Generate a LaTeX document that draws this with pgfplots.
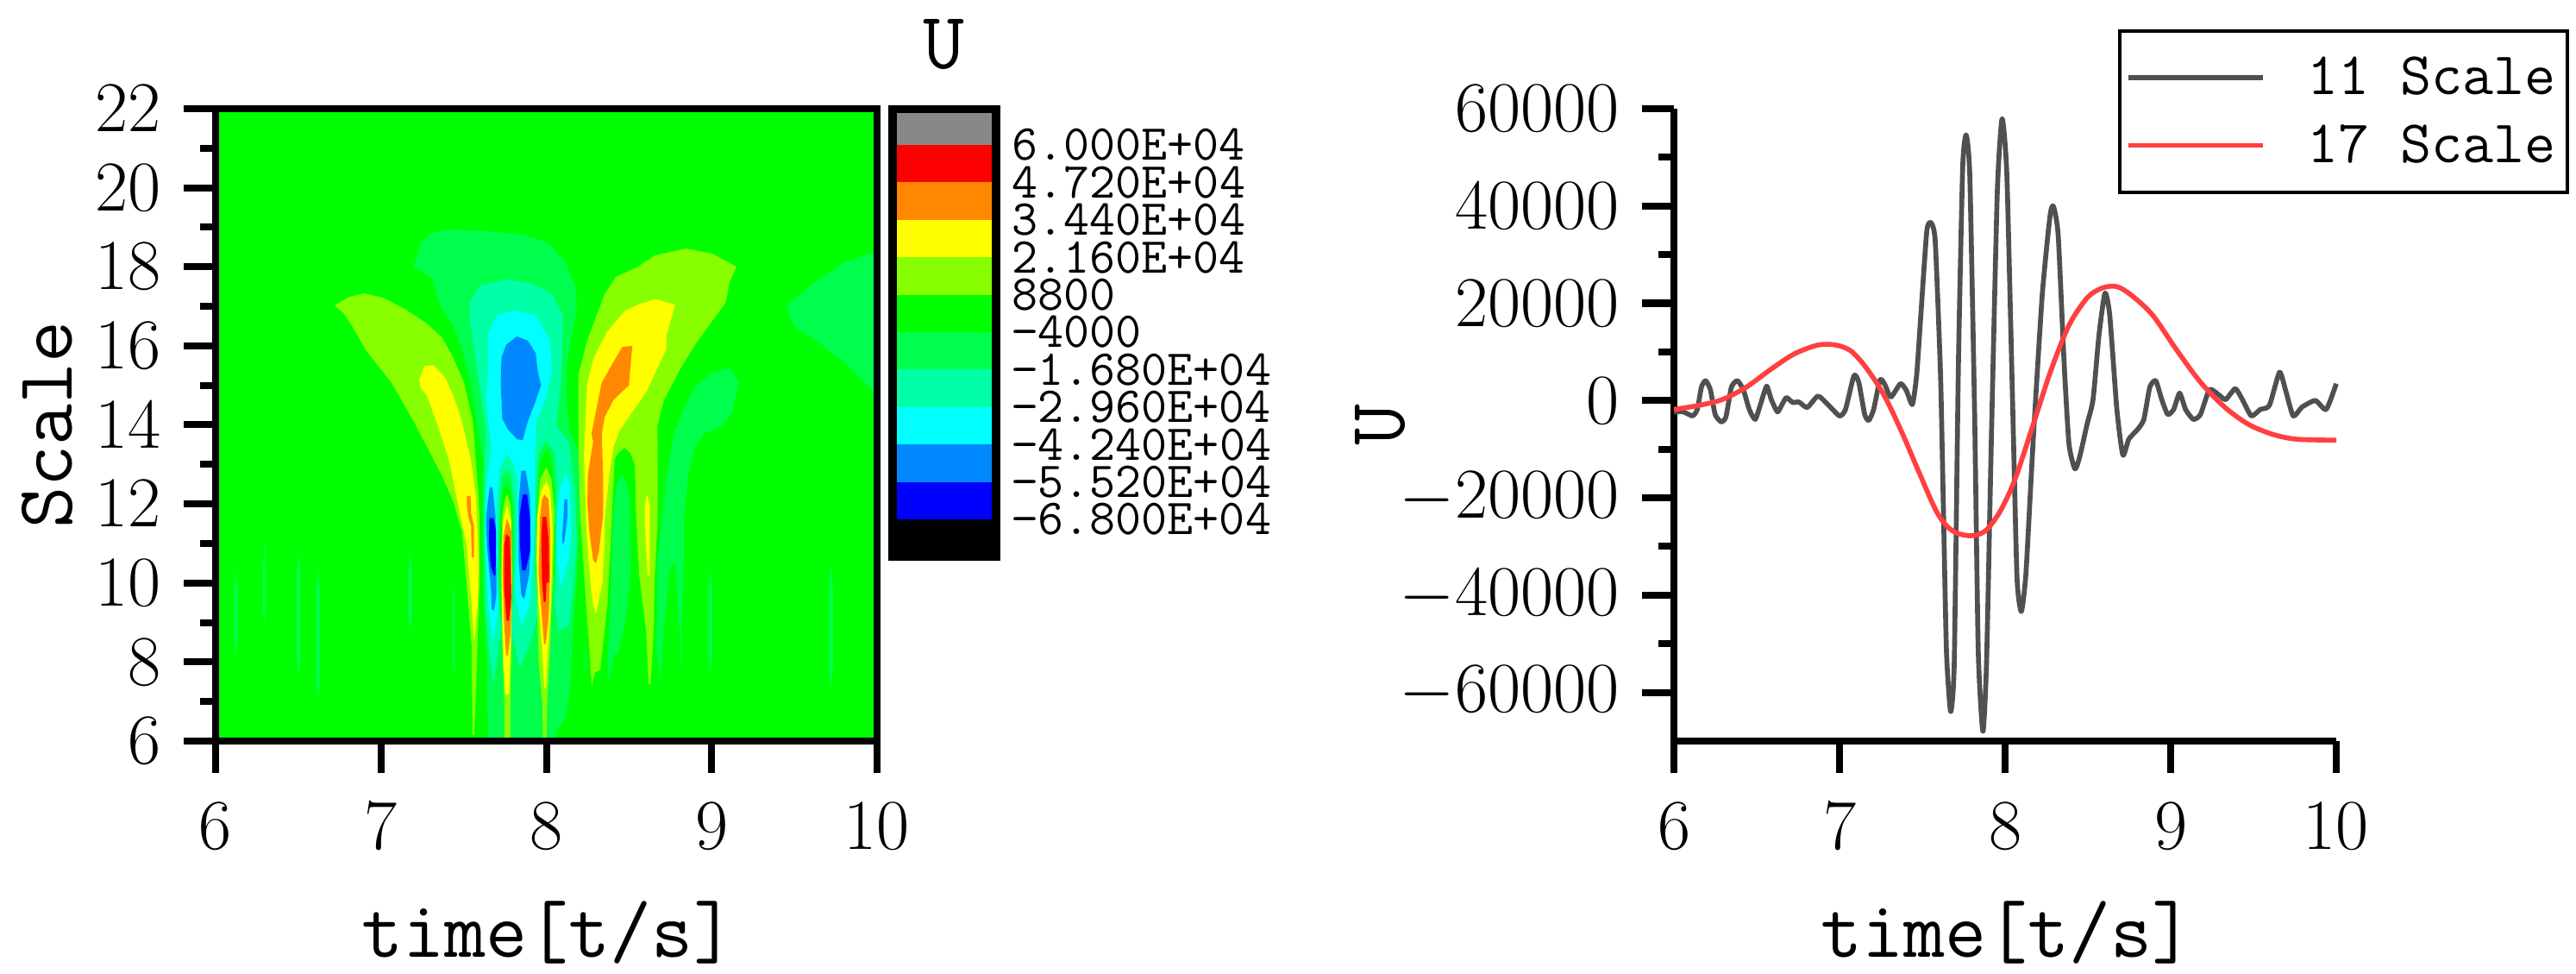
\documentclass[border=0pt]{standalone}
\usepackage{fontspec}
\usepackage{pgfplots}
\pgfplotsset{compat=1.18}
\usepackage{xcolor}

\definecolor{cgray}{HTML}{888888}
\definecolor{cred}{HTML}{FF0000}
\definecolor{corange}{HTML}{FF8800}
\definecolor{cyellow}{HTML}{FFFF00}
\definecolor{clime}{HTML}{88FF00}
\definecolor{cgreen}{HTML}{00FF00}
\definecolor{cspringa}{HTML}{00FF4C}
\definecolor{cspringb}{HTML}{00FFA6}
\definecolor{ccyan}{HTML}{00FFFF}
\definecolor{cazure}{HTML}{0088FF}
\definecolor{cblue}{HTML}{0000FF}
\definecolor{linegray}{HTML}{505050}
\definecolor{linered}{HTML}{FF4040}

% one filled contour region, in data coordinates
\newcommand{\reg}[2]{\addplot[draw=none,fill=#1] coordinates {#2} --cycle;}

\newcommand{\labfont}{\fontsize{28}{30}\selectfont\ttfamily}
\newcommand{\barfont}{\fontsize{17.5}{18}\selectfont\ttfamily}

\pgfplotsset{
  thickaxis/.style={
    scale only axis,
    anchor=south west,
    axis line style={-,line width=2.4pt},
    tick style={black,line width=2.4pt},
    major tick length=11pt,
    minor tick length=5.4pt,
    tick align=outside,
    xtick pos=lower, ytick pos=left,
    xmin=6, xmax=10, xtick={6,7,8,9,10},
    /pgf/number format/1000 sep={},
    xlabel={time[t/s]},
    tick label style={font=\fontsize{23.5}{24}\selectfont},
    xticklabel shift=7pt,
    yticklabel shift=4.5pt,
    every axis x label/.style={at={(axis description cs:0.503,-0.342)},anchor=base,font=\labfont},
  },
}

\begin{document}
\begin{tikzpicture}
\useasboundingbox (0,0) rectangle (896.1pt,338.7pt);

% contour panel
\begin{axis}[thickaxis,
  at={(75pt,81pt)}, width=230.1pt, height=219.9pt,
  ymin=6, ymax=22, ytick={6,8,...,22}, minor y tick num=1,
  axis on top,
  ylabel={Scale},
  every axis y label/.style={at={(axis description cs:-0.254,0.5)},rotate=90,anchor=center,font=\labfont},
]
\reg{cgreen}{(6,6)(10,6)(10,22)(6,22)}
% far right blob and the lobe below the right flame
\reg{cspringa}{(9.455,17.04)(9.615,17.58)(9.801,18.11)(10,18.40)(10,14.74)(9.827,15.49)(9.668,16.02)(9.509,16.45)(9.469,16.77)}
\reg{cspringa}{(8.898,14.95)(9.004,15.32)(9.110,15.45)(9.163,15.06)(9.123,14.31)(9.057,13.96)(8.951,13.77)(8.892,13.40)(8.858,12.70)(8.831,11.63)(8.831,10.56)(8.818,8.95)(8.818,7.55)(8.805,8.84)(8.778,10.56)(8.752,10.45)(8.712,8.95)(8.685,7.50)(8.667,8.41)(8.672,10.56)(8.699,11.63)(8.725,12.70)(8.778,13.88)(8.845,14.52)}
% thin stripes
\reg{cspringa}{(6.122,10.34)(6.134,9.74)(6.134,8.60)(6.122,8.20)(6.110,8.60)(6.110,9.74)}
\reg{cspringa}{(6.295,11.04)(6.303,10.44)(6.303,9.35)(6.295,8.95)(6.287,9.35)(6.287,10.44)}
\reg{cspringa}{(6.502,10.82)(6.514,10.22)(6.514,8.11)(6.502,7.71)(6.490,8.11)(6.490,10.22)}
\reg{cspringa}{(6.619,10.39)(6.631,9.79)(6.631,7.53)(6.619,7.13)(6.607,7.53)(6.607,9.79)}
\reg{cspringa}{(7.177,10.82)(7.189,10.22)(7.189,9.19)(7.177,8.79)(7.165,9.19)(7.165,10.22)}
\reg{cspringa}{(7.440,10.02)(7.448,9.42)(7.448,8.11)(7.440,7.71)(7.432,8.11)(7.432,9.42)}
\reg{cspringa}{(8.991,10.34)(9.003,9.74)(9.003,8.17)(8.991,7.77)(8.979,8.17)(8.979,9.74)}
\reg{cspringa}{(9.721,10.45)(9.733,9.85)(9.733,7.79)(9.721,7.39)(9.709,7.79)(9.709,9.85)}
\reg{cspringa}{(8.236,8.31)(8.242,8.10)(8.242,7.90)(8.236,7.73)(8.230,7.90)(8.230,8.10)}
% left flame
\reg{clime}{(6.720,17.02)(6.799,17.22)(6.892,17.33)(7.012,17.22)(7.145,16.93)(7.278,16.56)(7.370,16.21)(7.437,15.70)(7.503,15.06)(7.556,14.09)(7.575,13.02)(7.591,12.16)(7.596,11.63)(7.596,10.02)(7.583,8.41)(7.575,7.34)(7.564,6.16)(7.554,6.16)(7.548,8.41)(7.517,10.02)(7.490,11.31)(7.437,12.06)(7.370,12.70)(7.278,13.45)(7.198,14.09)(7.065,15.06)(6.906,15.91)(6.826,16.50)(6.773,16.83)}
\reg{cyellow}{(7.232,15.16)(7.264,15.49)(7.317,15.51)(7.384,15.22)(7.437,14.74)(7.490,14.09)(7.543,13.13)(7.575,12.16)(7.591,10.56)(7.586,9.48)(7.564,8.52)(7.548,9.48)(7.517,10.98)(7.463,12.06)(7.410,13.13)(7.344,13.98)(7.278,14.74)(7.238,14.95)}
\reg{corange}{(7.519,12.20)(7.542,12.20)(7.545,11.75)(7.562,11.45)(7.562,10.65)(7.549,10.65)(7.545,11.45)(7.528,11.67)(7.519,12.00)}
% central negative lobes
\reg{cspringa}{(7.198,18.00)(7.238,18.59)(7.304,18.86)(7.410,18.94)(7.623,18.91)(7.862,18.81)(8.021,18.59)(8.114,18.11)(8.175,17.52)(8.186,16.99)(8.154,16.24)(8.122,15.49)(8.122,14.63)(8.141,13.88)(8.213,13.13)(8.201,11.67)(8.184,10.21)(8.161,8.75)(8.144,7.29)(8.118,6.60)(8.066,6.27)(8.049,6)(7.646,6)(7.641,8.02)(7.623,9.48)(7.618,10.94)(7.615,12.40)(7.617,13.13)(7.583,13.98)(7.543,15.06)(7.490,15.91)(7.437,16.50)(7.357,17.04)(7.304,17.74)}
\reg{cspringb}{(7.538,17.09)(7.596,17.52)(7.756,17.68)(7.915,17.58)(8.034,17.31)(8.101,16.77)(8.096,15.91)(8.088,15.06)(8.061,13.98)(8.135,13.57)(8.174,12.40)(8.184,10.94)(8.161,9.77)(8.135,8.90)(8.075,8.79)(8.049,9.48)(7.944,9.12)(7.901,8.46)(7.840,7.84)(7.806,8.46)(7.753,9.48)(7.710,8.31)(7.681,7.40)(7.653,8.31)(7.628,9.48)(7.623,11.67)(7.628,13.13)(7.636,13.77)(7.609,14.63)(7.570,15.70)(7.538,16.66)}
\reg{ccyan}{(7.649,16.34)(7.702,16.77)(7.809,16.90)(7.941,16.77)(8.021,16.13)(8.034,15.38)(7.995,14.63)(7.941,14.09)(7.936,13.64)(7.931,13.13)(7.931,11.67)(7.918,10.58)(7.901,9.48)(7.849,8.90)(7.823,9.48)(7.753,10.21)(7.719,9.48)(7.675,8.50)(7.649,9.48)(7.628,10.94)(7.635,12.40)(7.667,13.42)(7.636,14.63)(7.649,15.49)}
\reg{ccyan}{(8.118,12.80)(8.144,12.40)(8.153,11.31)(8.135,10.58)(8.087,9.88)(8.066,10.58)(8.062,11.67)(8.083,12.40)}
\reg{cazure}{(7.729,15.70)(7.756,16.02)(7.822,16.24)(7.888,16.13)(7.936,15.81)(7.947,15.38)(7.968,15.00)(7.928,14.52)(7.888,14.09)(7.857,13.61)(7.822,13.64)(7.769,13.88)(7.734,14.15)(7.724,15.06)}
\reg{cazure}{(7.658,12.42)(7.675,12.42)(7.693,11.67)(7.698,10.21)(7.698,9.70)(7.684,9.30)(7.670,9.34)(7.667,9.77)(7.641,10.94)(7.635,11.67)}
\reg{cazure}{(7.849,12.84)(7.875,12.84)(7.901,12.18)(7.906,10.94)(7.896,10.21)(7.866,9.59)(7.849,9.70)(7.832,10.58)(7.832,12.04)}
\reg{cazure}{(8.109,12.11)(8.127,12.11)(8.127,11.67)(8.109,11.05)(8.097,10.98)(8.097,11.23)(8.104,11.67)}
\reg{cblue}{(7.656,11.64)(7.681,11.64)(7.696,11.31)(7.693,10.21)(7.684,10.18)(7.663,10.43)(7.653,11.02)}
\reg{cblue}{(7.858,12.24)(7.884,12.24)(7.901,11.67)(7.901,10.80)(7.875,10.32)(7.854,10.32)(7.840,10.94)(7.837,11.67)}
% left positive lobe
\reg{cspringb}{(7.762,13.24)(7.797,13.06)(7.823,12.62)(7.826,11.67)(7.814,10.21)(7.806,9.12)(7.753,8.90)(7.727,9.48)(7.705,10.94)(7.701,12.04)(7.719,12.91)}
\reg{cspringa}{(7.762,12.88)(7.788,12.66)(7.806,12.04)(7.806,10.58)(7.788,9.12)(7.719,9.12)(7.705,10.21)(7.719,12.04)(7.733,12.66)}
\reg{cgreen}{(7.762,12.51)(7.783,12.37)(7.797,11.89)(7.797,9.48)(7.727,9.48)(7.719,10.94)(7.727,11.89)(7.741,12.37)}
\reg{clime}{(7.762,12.26)(7.785,11.96)(7.792,10.94)(7.788,9.48)(7.788,8.02)(7.783,6.93)(7.783,6)(7.745,6)(7.745,6.93)(7.736,8.02)(7.727,10.21)(7.733,11.67)(7.745,12.04)}
\reg{cyellow}{(7.762,11.96)(7.788,11.60)(7.792,10.21)(7.788,8.75)(7.774,7.18)(7.753,7.18)(7.740,8.02)(7.731,9.48)(7.731,10.94)(7.740,11.60)}
\reg{corange}{(7.762,11.64)(7.788,11.31)(7.788,9.48)(7.785,8.75)(7.767,8.17)(7.757,8.17)(7.745,8.97)(7.736,10.21)(7.740,11.16)}
\reg{cred}{(7.757,11.23)(7.779,11.16)(7.785,10.21)(7.788,9.63)(7.774,9.04)(7.760,9.04)(7.745,9.85)(7.745,10.94)}
% right positive lobe
\reg{cspringa}{(8.000,13.61)(8.049,13.28)(8.062,12.40)(8.057,10.21)(8.049,9.48)(7.953,9.12)(7.931,10.21)(7.936,12.04)(7.953,13.28)}
\reg{cgreen}{(8.000,13.39)(8.031,13.13)(8.049,12.40)(8.049,10.21)(7.953,10.21)(7.941,11.67)(7.962,13.06)}
\reg{clime}{(8.000,12.93)(8.031,12.62)(8.049,11.82)(8.040,10.21)(8.023,8.39)(8.005,6.93)(8.000,6)(7.979,6)(7.976,6.93)(7.953,8.02)(7.941,10.21)(7.948,11.82)(7.962,12.62)}
\reg{cyellow}{(8.000,12.58)(8.023,12.33)(8.040,11.31)(8.031,10.07)(8.023,9.12)(8.005,8.02)(7.997,7.33)(7.988,7.33)(7.974,8.39)(7.953,9.48)(7.941,10.58)(7.944,11.67)(7.970,12.33)}
\reg{corange}{(7.988,12.24)(8.014,12.11)(8.023,11.31)(8.023,10.21)(8.014,9.12)(7.997,8.46)(7.986,8.46)(7.970,9.34)(7.953,10.21)(7.962,11.67)(7.974,12.11)}
\reg{cred}{(7.976,11.67)(8.000,11.67)(8.014,11.09)(8.017,10.03)(8.000,9.99)(7.997,9.52)(7.984,9.52)(7.974,10.07)(7.970,11.09)}
% right flame
\reg{clime}{(8.552,18.00)(8.659,18.29)(8.845,18.46)(9.004,18.33)(9.150,18.00)(9.110,17.63)(9.084,17.09)(8.991,16.56)(8.898,16.02)(8.805,15.38)(8.712,14.63)(8.672,13.98)(8.674,13.13)(8.674,11.67)(8.656,10.21)(8.648,8.75)(8.630,7.44)(8.618,7.44)(8.604,8.75)(8.561,10.21)(8.543,11.67)(8.535,12.99)(8.509,13.28)(8.474,13.42)(8.439,13.31)(8.413,13.13)(8.396,11.67)(8.370,9.48)(8.326,7.80)(8.292,7.73)(8.274,7.37)(8.266,8.02)(8.240,9.48)(8.205,11.67)(8.196,13.13)(8.194,14.20)(8.194,15.27)(8.247,16.13)(8.353,17.31)(8.420,17.74)}
\reg{cyellow}{(8.659,17.18)(8.778,17.04)(8.725,16.24)(8.725,15.91)(8.605,14.84)(8.446,13.88)(8.406,13.45)(8.380,12.70)(8.353,11.63)(8.353,11.09)(8.340,10.02)(8.300,9.22)(8.281,9.48)(8.255,10.56)(8.239,11.63)(8.228,13.23)(8.234,13.88)(8.247,15.06)(8.287,15.70)(8.366,16.34)(8.473,16.88)(8.552,17.04)}
\reg{corange}{(8.459,15.97)(8.520,16.00)(8.499,15.00)(8.406,14.63)(8.353,14.20)(8.335,13.77)(8.344,12.62)(8.344,11.75)(8.318,10.80)(8.300,10.49)(8.283,10.58)(8.260,11.31)(8.248,12.04)(8.252,12.77)(8.283,13.57)(8.273,13.77)(8.334,15.06)(8.406,15.59)}
\reg{cyellow}{(8.608,12.24)(8.625,11.96)(8.625,10.18)(8.613,10.18)(8.595,11.53)(8.595,11.96)}
\reg{cspringa}{(8.457,12.73)(8.500,12.40)(8.509,10.21)(8.483,9.12)(8.431,8.17)(8.413,8.24)(8.378,7.51)(8.370,8.02)(8.387,9.48)(8.404,11.67)(8.422,12.48)}
\end{axis}

% level bar
\begin{axis}[
  scale only axis, anchor=south west,
  at={(309pt,143.7pt)}, width=39pt, height=158.4pt,
  xmin=0, xmax=1, ymin=-82155, ymax=73560,
  axis background/.style={fill=black},
  axis line style={draw=none},
  scaled y ticks=false,
  xtick=\empty,
  ytick={60000,47200,34400,21600,8800,-4000,-16800,-29600,-42400,-55200,-68000},
  yticklabels={6.000E+04,4.720E+04,3.440E+04,2.160E+04,8800,−4000,−1.680E+04,−2.960E+04,−4.240E+04,−5.520E+04,−6.800E+04},
  ytick pos=right, yticklabel pos=right,
  major tick length=0pt,
  tick style={draw=none},
  yticklabel style={font=\barfont,anchor=west,inner sep=0pt,xshift=3.9pt},
  title={U},
  every axis title shift=0pt,
  title style={font=\labfont,at={(axis description cs:0.5,1.134)},anchor=center},
]
\reg{cgray}{(0.077,60000)(0.923,60000)(0.923,70760)(0.077,70760)}
\reg{cred}{(0.077,47200)(0.923,47200)(0.923,60000)(0.077,60000)}
\reg{corange}{(0.077,34400)(0.923,34400)(0.923,47200)(0.077,47200)}
\reg{cyellow}{(0.077,21600)(0.923,21600)(0.923,34400)(0.077,34400)}
\reg{clime}{(0.077,8800)(0.923,8800)(0.923,21600)(0.077,21600)}
\reg{cgreen}{(0.077,-4000)(0.923,-4000)(0.923,8800)(0.077,8800)}
\reg{cspringa}{(0.077,-16800)(0.923,-16800)(0.923,-4000)(0.077,-4000)}
\reg{cspringb}{(0.077,-29600)(0.923,-29600)(0.923,-16800)(0.077,-16800)}
\reg{ccyan}{(0.077,-42400)(0.923,-42400)(0.923,-29600)(0.077,-29600)}
\reg{cazure}{(0.077,-55200)(0.923,-55200)(0.923,-42400)(0.077,-42400)}
\reg{cblue}{(0.077,-68000)(0.923,-68000)(0.923,-55200)(0.077,-55200)}
\end{axis}

% line panel
\begin{axis}[thickaxis,
  at={(582.3pt,81pt)}, width=230.4pt, height=219.9pt,
  axis lines*=left,
  ymin=-70000, ymax=60000,
  ytick={-60000,-40000,-20000,0,20000,40000,60000}, minor y tick num=1,
  scaled y ticks=false,
  ylabel={U},
  every axis y label/.style={at={(axis description cs:-0.443,0.5)},rotate=90,anchor=center,font=\labfont},
  clip=false,
  legend style={
    at={(axis description cs:1.352,1.1255)}, anchor=north east,
    draw=black, line width=1.2pt,
    font=\fontsize{21}{23}\selectfont\ttfamily,
    inner xsep=2pt, inner ysep=7pt, row sep=4.9pt,
    /tikz/every odd column/.append style={column sep=12.5pt},
  },
  legend cell align=left,
  legend image code/.code={\draw[#1,line width=1.7pt] (0pt,0pt)--(47pt,0pt);},
]
\addplot[linegray,line width=1.7pt,line join=round,smooth,tension=0.35] coordinates {
(6.000,-2342)(6.058,-2342)(6.112,-3157)(6.141,-1833)(6.166,2749)(6.191,4073)(6.220,2240)(6.249,-2851)(6.285,-4379)(6.314,-3360)
(6.347,2749)(6.383,4073)(6.419,2240)(6.455,-1833)(6.491,-3870)(6.527,-305)(6.560,2953)(6.588,204)(6.625,-2342)(6.653,-815)
(6.679,611)(6.718,-407)(6.755,-305)(6.805,-1426)(6.870,916)(6.935,-1018)(7.000,-3157)(7.036,-1833)(7.087,5092)(7.116,3768)
(7.152,-2851)(7.177,-4073)(7.206,-1833)(7.245,4277)(7.274,3259)(7.310,713)(7.368,3462)(7.404,2037)(7.440,-815)(7.466,5295)
(7.491,17515)(7.527,34826)(7.552,36557)(7.578,32789)(7.610,5295)(7.628,-23217)(7.646,-51730)(7.671,-63950)(7.693,-53766)(7.718,7332)
(7.744,48064)(7.765,54581)(7.787,46027)(7.816,-2851)(7.838,-51730)(7.866,-68022)(7.888,-53766)(7.917,-7943)(7.953,42972)(7.982,57941)
(8.011,46027)(8.047,-2851)(8.072,-36455)(8.098,-43380)(8.126,-35437)(8.170,-7943)(8.224,21588)(8.271,37881)(8.292,39917)(8.321,33808)
(8.357,7332)(8.386,-8961)(8.422,-14053)(8.451,-11507)(8.495,-4888)(8.531,204)(8.567,13442)(8.603,22097)(8.632,17515)(8.675,-1833)
(8.711,-11201)(8.747,-7943)(8.801,-5906)(8.838,-3870)(8.874,2749)(8.910,4073)(8.946,204)(8.982,-2851)(9.018,-1833)(9.054,1527)
(9.090,-1833)(9.137,-3870)(9.180,-2851)(9.234,2240)(9.289,1222)(9.332,204)(9.390,2444)(9.433,204)(9.487,-3157)(9.541,-1833)
(9.596,-1018)(9.657,5804)(9.693,2240)(9.740,-3157)(9.794,-1324)(9.874,0)(9.939,-1833)(10.000,3462)};
\addlegendentry{11 Scale\hspace{2.5pt}}
\addplot[linered,line width=1.7pt,line join=round,smooth] coordinates {
(6.000,-1833)(6.148,-1018)(6.292,204)(6.437,2749)(6.581,6313)(6.726,9572)(6.870,11405)(6.978,11405)(7.069,10183)(7.159,6823)
(7.267,1222)(7.375,-6415)(7.484,-15071)(7.592,-23217)(7.682,-26781)(7.791,-27800)(7.881,-26781)(7.971,-22708)(8.061,-16089)(8.170,-4888)
(8.278,6313)(8.386,15478)(8.495,21079)(8.585,23115)(8.675,23421)(8.765,21588)(8.892,17515)(9.036,10387)(9.180,3768)(9.325,-1324)
(9.469,-4888)(9.614,-6924)(9.758,-7943)(10.000,-8146)};
\addlegendentry{17 Scale\hspace{2.5pt}}
\end{axis}
\end{tikzpicture}
\end{document}
